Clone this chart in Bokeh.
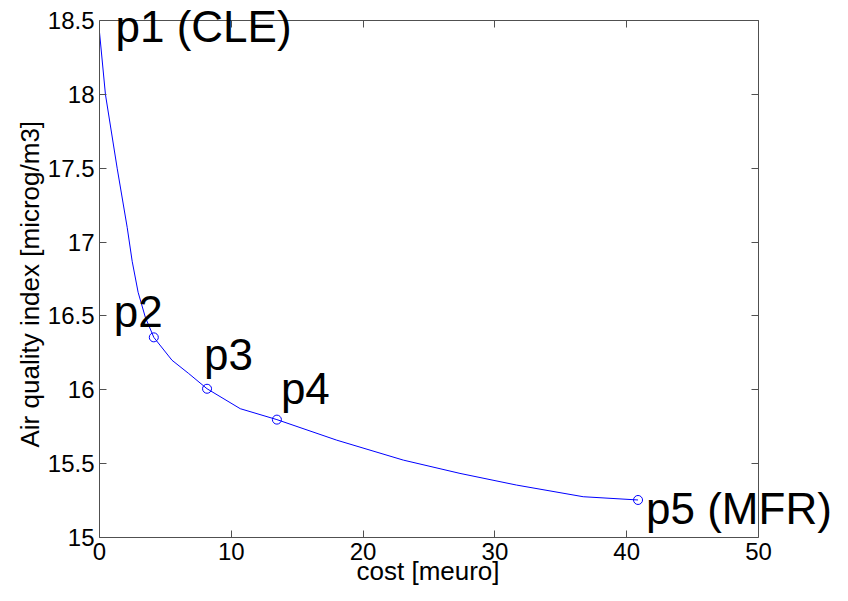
from bokeh.plotting import figure
from bokeh.models import Label, LinearAxis, FixedTicker, Range1d, Title
from bokeh.embed import file_html
from bokeh.resources import INLINE

# ---- data ----
curve_x = [0, 0.45, 1.34, 2.1, 2.48, 2.93, 3.48, 4.12, 5.5, 6.77, 8.16, 10.68, 13.46,
           18.0, 23.05, 27.35, 31.64, 36.7, 40.86]
curve_y = [18.42, 18.0, 17.5, 17.10, 16.87, 16.66, 16.49, 16.355, 16.2, 16.11, 16.007, 15.872, 15.798,
           15.659, 15.524, 15.434, 15.355, 15.276, 15.254]

point_names = ["p1 (CLE)", "p2", "p3", "p4", "p5 (MFR)"]
point_x = [0, 4.12, 8.16, 13.46, 40.86]
point_y = [18.42, 16.355, 16.007, 15.798, 15.254]
has_marker = [False, True, True, True, True]

x_ticks = [0, 10, 20, 30, 40, 50]
y_ticks = [15, 15.5, 16, 16.5, 17, 17.5, 18, 18.5]
y_tick_labels = ["15", "15.5", "16", "16.5", "17", "17.5", "18", "18.5"]
x_lim = (0, 50)
y_lim = (15, 18.5)
x_title = "cost [meuro]"
y_title = "Air quality index [microg/m3]"

# label offsets in screen pixels (style)
label_dx = [16, -40, -3, 4, 8]
label_dy = [6, 26, 34, 31, -9]

FONT = "Liberation Sans"
AX_COL = "#505050"

# layout (pixels): visible box 659 x 517, the frame extends past it so labels are not clipped
BOX_W, BOX_H = 659, 517
FRAME_W, FRAME_H = 738, 537
x_end = x_lim[0] + (x_lim[1] - x_lim[0]) * FRAME_W / BOX_W
y_end = y_lim[0] + (y_lim[1] - y_lim[0]) * FRAME_H / BOX_H

p = figure(frame_width=FRAME_W, frame_height=FRAME_H, output_backend="svg", toolbar_location=None,
           x_range=Range1d(x_lim[0], x_end), y_range=Range1d(y_lim[0], y_end),
           min_border_left=99, min_border_right=0, min_border_top=0, min_border_bottom=48)
p.grid.visible = False
p.outline_line_color = None
p.background_fill_color = "white"
p.border_fill_color = "white"

p.line(curve_x, curve_y, line_color="blue", line_width=1)
mx = [x for x, m in zip(point_x, has_marker) if m]
my = [y for y, m in zip(point_y, has_marker) if m]
p.scatter(mx, my, marker="circle", size=9, fill_color=None, line_color="blue", line_width=1)

for name, x, y, dx, dy in zip(point_names, point_x, point_y, label_dx, label_dy):
    p.add_layout(Label(x=x, y=y, text=name, x_offset=dx, y_offset=dy,
                       text_font=FONT, text_font_size="44px", text_color="black",
                       text_baseline="alphabetic", text_align="left"))

def style_axis(ax):
    ax.axis_line_color = AX_COL
    ax.major_tick_line_color = AX_COL
    ax.minor_tick_line_color = None
    ax.major_tick_in = 7
    ax.major_tick_out = 0
    ax.major_label_text_font = FONT
    ax.major_label_text_font_size = "24px"
    ax.major_label_text_color = "black"

xa = p.xaxis[0]
xa.ticker = FixedTicker(ticks=x_ticks)
xa.bounds = x_lim
style_axis(xa)
xa.major_label_standoff = 5

ya = p.yaxis[0]
ya.ticker = FixedTicker(ticks=y_ticks)
ya.bounds = y_lim
ya.major_label_overrides = {t: s for t, s in zip(y_ticks, y_tick_labels)}
style_axis(ya)
ya.major_label_standoff = 5

top = LinearAxis(ticker=FixedTicker(ticks=x_ticks), fixed_location=y_lim[1], bounds=x_lim)
style_axis(top)
top.major_label_overrides = {t: "" for t in x_ticks}
top.major_label_standoff = 0
p.add_layout(top, "above")

right = LinearAxis(ticker=FixedTicker(ticks=y_ticks), fixed_location=x_lim[1], bounds=y_lim)
style_axis(right)
right.major_label_overrides = {t: "" for t in y_ticks}
right.major_label_standoff = 0
p.add_layout(right, "right")

# axis titles, placed along the visible box rather than the (wider) frame
p.add_layout(Title(text=x_title, align="left", offset=257, standoff=-17,
                   text_font=FONT, text_font_size="26px", text_font_style="normal",
                   text_color="black"), "below")
p.add_layout(Title(text=y_title, align="left", offset=90, standoff=0,
                   text_font=FONT, text_font_size="26px", text_font_style="normal",
                   text_color="black"), "left")

open("out.html", "w").write(file_html(p, INLINE))
